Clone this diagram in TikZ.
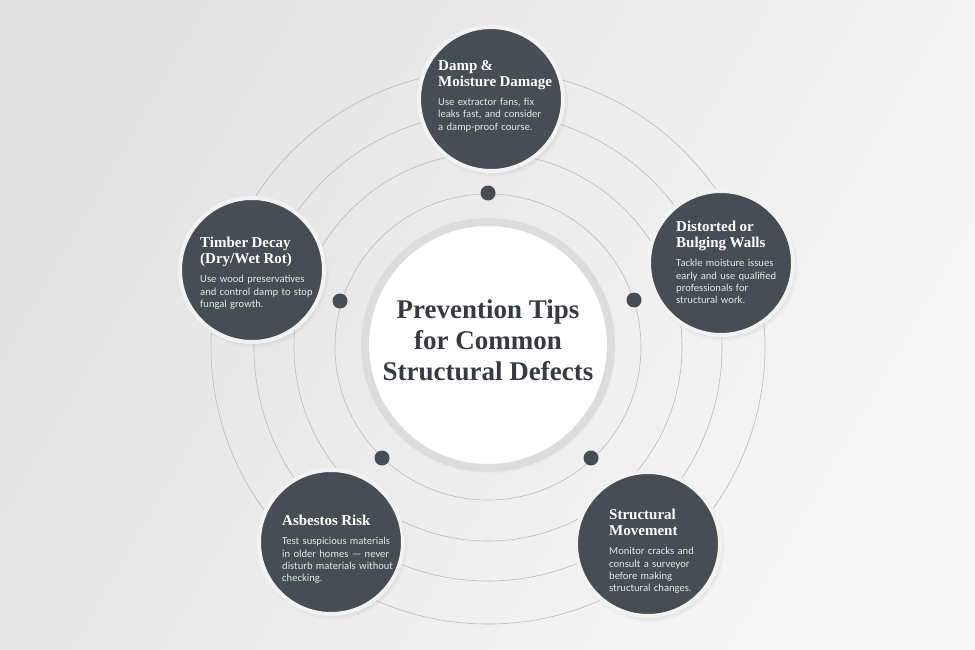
\documentclass[tikz,border=0pt]{standalone}
\usepackage{fontspec}
\setmainfont{Liberation Serif}
\newfontfamily\tipfont{Carlito}
\usetikzlibrary{positioning,shadows}
\definecolor{slate}{HTML}{474D55}
\definecolor{bgDark}{HTML}{E2E2E2}
\definecolor{bgLight}{HTML}{F7F7F7}
\definecolor{ringGray}{HTML}{BBBBBB}
\definecolor{hubRing}{HTML}{DCDCDC}
\definecolor{edgeWhite}{HTML}{F2F2F2}
\definecolor{titleGray}{HTML}{363B42}
\definecolor{bodyGray}{HTML}{E4E6E8}
%% Title and body of one tip.
\newcommand{\tipTitle}[1]{{\fontsize{15}{16}\selectfont\bfseries #1\par}\vskip 7pt}
\newcommand{\tipBody}[1]{{\tipfont\fontsize{10.6}{12.3}\selectfont\color{bodyGray}#1\par}}

\begin{document}
\begin{tikzpicture}[x=1pt,y=-1pt,%%
  tipCircle/.style={circle,fill=slate,draw=edgeWhite,line width=4pt,%%
    minimum size=144pt,inner sep=0pt,%%
    circular drop shadow={shadow xshift=2pt,shadow yshift=-3pt,opacity=0.3,shadow scale=1.04}},%%
  tipText/.style={anchor=north west,inner sep=0pt,text width=135pt,align=left,text=white},%%
  dotStyle/.style={circle,fill=slate,minimum size=15pt,inner sep=0pt},%%
  ringStyle/.style={draw=ringGray,line width=0.6pt},%%
  hubStyle/.style={circle,fill=white,draw=hubRing,line width=8pt,minimum size=246pt,%%
    circular drop shadow={shadow xshift=1pt,shadow yshift=-3pt,opacity=0.2,shadow scale=1.03}},%%
  hubTitle/.style={align=center,inner sep=0pt,text=titleGray,%%
    font=\fontsize{27}{31}\selectfont\bfseries}%%
]
%%
%% Page and background.
\useasboundingbox (0,0) rectangle (975,650);
\shade[left color=bgDark,right color=bgLight,shading angle=60] (0,0) rectangle (975,650);
%%
%% The rings round the middle.
\coordinate (ringC) at (488,347);
\foreach \r in {153,194,234,277}
  \draw[ringStyle] (ringC) circle (\r pt);
%%
%% The hub with the title.
\node[hubStyle] (hub) at (488,345) {};
\node[hubTitle] (title) at (488,340.5) {Prevention Tips\\for Common\\Structural Defects};
%%
%% Dots on the inner ring.
\node[dotStyle] (dotTop) at (488,193) {};
\node[dotStyle] (dotRight) at (634,300) {};
\node[dotStyle] (dotLowRight) at (591,458) {};
\node[dotStyle] (dotLowLeft) at (382,458) {};
\node[dotStyle] (dotLeft) at (340,301) {};
%%
%% Damp, top.
\node[tipCircle] (damp) at (491,99) {};
\node[tipText] (dampT) at (438,60) {%%
  \tipTitle{Damp \&\\Moisture Damage}%%
  \tipBody{Use extractor fans, fix\\leaks fast, and consider\\a damp-proof course.}};
%%
%% Distorted walls, right.
\node[tipCircle] (walls) at (721,263) {};
\node[tipText] (wallsT) at (676,221) {%%
  \tipTitle{Distorted or\\Bulging Walls}%%
  \tipBody{Tackle moisture issues\\early and use qualified\\professionals for\\structural work.}};
%%
%% Movement, lower right.
\node[tipCircle] (movement) at (648,544) {};
\node[tipText] (movementT) at (609,509) {%%
  \tipTitle{Structural\\Movement}%%
  \tipBody{Monitor cracks and\\consult a surveyor\\before making\\structural changes.}};
%%
%% Asbestos, lower left.
\node[tipCircle] (asbestos) at (331,542) {};
\node[tipText] (asbestosT) at (282,515) {%%
  \tipTitle{Asbestos Risk}%%
  \tipBody{Test suspicious materials\\in older homes — never\\disturb materials without\\checking.}};
%%
%% Timber, left.
\node[tipCircle] (timber) at (252,270) {};
\node[tipText] (timberT) at (200,237) {%%
  \tipTitle{Timber Decay\\(Dry/Wet Rot)}%%
  \tipBody{Use wood preservatives\\and control damp to stop\\fungal growth.}};
\end{tikzpicture}
\end{document}
